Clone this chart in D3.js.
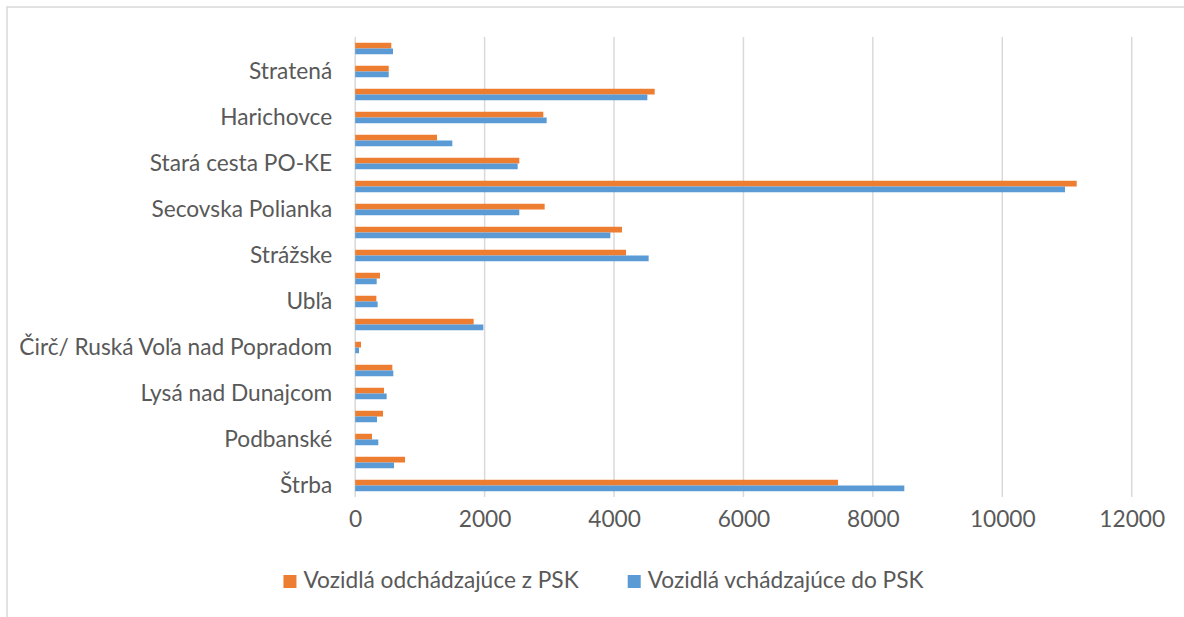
<!DOCTYPE html>
<html>
<head>
<meta charset="utf-8">
<script src="https://cdn.jsdelivr.net/npm/d3@7"></script>
<style>
  body { margin: 0; background: #fff; }
  svg text { font-family: Lato, "Open Sans", sans-serif; fill: #595959; }
</style>
</head>
<body>
<div id="chart"></div>
<script>
// categories top to bottom, every other label is hidden in the original
var categories = ["", "Stratená", "", "Harichovce", "", "Stará cesta PO-KE", "",
  "Secovska Polianka", "", "Strážske", "", "Ubľa", "", "Čirč/ Ruská Voľa nad Popradom",
  "", "Lysá nad Dunajcom", "", "Podbanské", "", "Štrba"];
var seriesNames = ["Vozidlá odchádzajúce z PSK", "Vozidlá vchádzajúce do PSK"];
var odchadzajuce = [558, 518, 4628, 2907, 1264, 2536, 11150, 2928, 4123, 4185,
  383, 327, 1831, 90, 574, 445, 430, 260, 770, 7461];
var vchadzajuce = [584, 518, 4515, 2959, 1501, 2511, 10969, 2536, 3943, 4535,
  332, 347, 1980, 59, 589, 486, 337, 357, 600, 8486];
var xTicks = [0, 2000, 4000, 6000, 8000, 10000, 12000];

var W = 1184, H = 617;
var margin = {top: 37, left: 355.2},
    width = 776.5,
    height = 460;
var fontSize = 22.7;

var colors = ["#ED7D31", "#5B9BD5"];

var svg = d3.select("#chart")
  .append("svg")
    .attr("width", W)
    .attr("height", H);

// outer chart frame (runs off the right and bottom)
svg.append("rect")
  .attr("x", 7).attr("y", 7)
  .attr("width", 1300).attr("height", 800)
  .attr("fill", "none")
  .attr("stroke", "#d9d9d9")
  .attr("stroke-width", 1.5);

var g = svg.append("g")
  .attr("transform", "translate(" + margin.left + "," + margin.top + ")");

var x = d3.scaleLinear()
  .domain([0, 12000])
  .range([0, width]);

var y = d3.scaleBand()
  .domain(d3.range(categories.length))
  .range([0, height])
  .paddingInner(0.5)
  .paddingOuter(0.25);

var ySub = d3.scaleBand()
  .domain([0, 1])
  .range([0, y.bandwidth()]);

// gridlines
g.append("g")
  .selectAll("line")
  .data(xTicks)
  .enter().append("line")
    .attr("x1", function(d) { return x(d); })
    .attr("x2", function(d) { return x(d); })
    .attr("y1", 0)
    .attr("y2", height)
    .attr("stroke", "#d9d9d9")
    .attr("stroke-width", 1.5);

// x tick labels
var xAxis = g.append("g")
  .attr("transform", "translate(0," + height + ")")
  .call(d3.axisBottom(x).tickValues(xTicks).tickSize(0).tickPadding(14).tickFormat(d3.format("d")));
xAxis.select(".domain").remove();
xAxis.selectAll("text")
  .attr("font-size", fontSize)
  .style("font-family", "Lato, sans-serif")
  .attr("fill", "#595959");

// category labels
var yAxis = g.append("g")
  .call(d3.axisLeft(y).tickSize(0).tickPadding(23).tickFormat(function(i) { return categories[i]; }));
yAxis.select(".domain").remove();
yAxis.selectAll("text")
  .attr("font-size", fontSize)
  .style("font-family", "Lato, sans-serif")
  .attr("fill", "#595959");

// bars
var values = [odchadzajuce, vchadzajuce];
g.append("g")
  .selectAll("g")
  .data(values)
  .enter().append("g")
    .attr("fill", function(d, s) { return colors[s]; })
    .each(function(vals, s) {
      d3.select(this).selectAll("rect")
        .data(vals)
        .enter().append("rect")
          .attr("x", x(0))
          .attr("y", function(d, i) { return y(i) + ySub(s); })
          .attr("width", function(d) { return x(d) - x(0); })
          .attr("height", ySub.bandwidth());
    });

// legend
var legend = svg.append("g");
var items = legend.selectAll("g")
  .data(seriesNames)
  .enter().append("g");
items.append("rect")
  .attr("y", -13)
  .attr("width", 13)
  .attr("height", 13)
  .attr("fill", function(d, i) { return colors[i]; });
items.append("text")
  .attr("x", 20)
  .attr("font-size", fontSize)
  .text(function(d) { return d; });

var offset = 0;
items.each(function() {
  var node = d3.select(this);
  var w = 20 + node.select("text").node().getComputedTextLength();
  node.attr("transform", "translate(" + offset + ",0)");
  offset += w + 49;
});
var total = offset - 49;
legend.attr("transform", "translate(" + (603.5 - total / 2) + ",588)");
</script>
</body>
</html>
